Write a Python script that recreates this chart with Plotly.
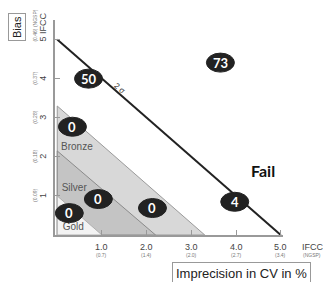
import plotly.graph_objects as go

# ---- data ----
x_ticks = [1, 2, 3, 4, 5]
x_tick_main = ["1.0", "2.0", "3.0", "4.0", "5.0"]
x_tick_ngsp = ["(0.7)", "(1.4)", "(2.0)", "(2.7)", "(3.4)"]
y_ticks = [1, 2, 3, 4, 5]
y_tick_main = ["1", "2", "3", "4", "5 IFCC"]
y_tick_ngsp = ["(0.09)", "(0.18)", "(0.28)", "(0.37)", "(0.46) (NGSP)"]

zone_names = ["Bronze", "Silver", "Gold"]
zone_limit_x = [3.3, 2.2, 1.0]
zone_limit_y = [3.3, 2.15, 1.0]
zone_label_x = [0.44, 0.38, 0.36]
zone_label_y = [2.25, 1.18, 0.20]

sigma_line_x = [0, 5]
sigma_line_y = [5, 0]

lab_imprecision = [0.70, 3.65, 0.34, 0.92, 0.27, 2.13, 3.97]
lab_bias = [4.00, 4.41, 2.77, 0.92, 0.56, 0.69, 0.85]
lab_counts = ["50", "73", "0", "0", "0", "0", "4"]

# ---- style ----
zone_fill = ["#d8d8d8", "#c4c4c4", "#f3f3f3"]
zone_line = ["#9a9a9a", "#8a8a8a", "#b0b0b0"]

L, R, T, B = 55, 283, 20, 235  # plot area in pixels


def px(xp):
    return (xp - L) / (R - L)


def py(yp):
    return (B - yp) / (B - T)


fig = go.Figure()

for name, lx, ly, fc, lc in zip(zone_names, zone_limit_x, zone_limit_y, zone_fill, zone_line):
    fig.add_trace(go.Scatter(
        x=[0, 0, lx, 0], y=[0, ly, 0, 0], mode="lines", fill="toself",
        fillcolor=fc, line=dict(color=lc, width=1), hoverinfo="skip", showlegend=False))

fig.add_trace(go.Scatter(
    x=zone_label_x, y=zone_label_y, mode="text", text=zone_names,
    textfont=dict(family="Liberation Sans, Arial", size=10, color="#555"),
    hoverinfo="skip", showlegend=False))

fig.add_trace(go.Scatter(
    x=sigma_line_x, y=sigma_line_y, mode="lines",
    line=dict(color="#222", width=2), hoverinfo="skip", showlegend=False))

shapes = []
annotations = []
for xv, yv, txt in zip(lab_imprecision, lab_bias, lab_counts):
    shapes.append(dict(
        type="circle", xref="x", yref="y", xsizemode="pixel", ysizemode="pixel",
        xanchor=xv, yanchor=yv, x0=-14, x1=14, y0=-9.5, y1=9.5,
        fillcolor="#222", line=dict(color="#222", width=1), layer="above"))
    annotations.append(dict(
        x=xv, y=yv, xref="x", yref="y", text="<b>%s</b>" % txt, showarrow=False,
        font=dict(family="Lato, Open Sans", size=13, color="white")))

# 2 sigma label
annotations.append(dict(x=1.40, y=3.76, xref="x", yref="y", text="2 σ", showarrow=False,
                        textangle=41, font=dict(family="Liberation Sans", size=8, color="#333")))
# Fail label
annotations.append(dict(x=4.61, y=1.66, xref="x", yref="y", text="<b>Fail</b>", showarrow=False,
                        font=dict(family="Lato, Open Sans", size=16, color="#111")))

# x tick labels
for xv, m, n in zip(x_ticks, x_tick_main, x_tick_ngsp):
    annotations.append(dict(x=xv, y=0, xref="x", yref="y", yshift=-12, text=m, showarrow=False,
                            xanchor="center", yanchor="middle",
                            font=dict(family="Liberation Sans", size=9, color="#444")))
    annotations.append(dict(x=xv, y=0, xref="x", yref="y", yshift=-20, text=n, showarrow=False,
                            xanchor="center", yanchor="middle",
                            font=dict(family="Liberation Sans", size=5, color="#777")))
annotations.append(dict(x=px(312), y=0, xref="paper", yref="y", yshift=-12, text="IFCC",
                        showarrow=False, xanchor="center", yanchor="middle",
                        font=dict(family="Liberation Sans", size=9, color="#444")))
annotations.append(dict(x=px(312), y=0, xref="paper", yref="y", yshift=-20, text="(NGSP)",
                        showarrow=False, xanchor="center", yanchor="middle",
                        font=dict(family="Liberation Sans", size=5, color="#777")))

# y tick labels (rotated)
for yv, m, n in zip(y_ticks, y_tick_main, y_tick_ngsp):
    shift_m = 12 if len(m) > 1 else 0
    shift_n = 14 if len(n) > 7 else 0
    annotations.append(dict(x=px(43), y=yv, xref="paper", yref="y", yshift=shift_m, text=m,
                            showarrow=False, textangle=-90, xanchor="center", yanchor="middle",
                            font=dict(family="Liberation Sans", size=9, color="#444")))
    annotations.append(dict(x=px(35), y=yv, xref="paper", yref="y", yshift=shift_n, text=n,
                            showarrow=False, textangle=-90, xanchor="center", yanchor="middle",
                            font=dict(family="Liberation Sans", size=5, color="#777")))

# axis title boxes
annotations.append(dict(x=px(17), y=py(27), xref="paper", yref="paper",
                        text="Bias", showarrow=False, textangle=-90,
                        xanchor="center", yanchor="middle",
                        bordercolor="#999", borderwidth=1, borderpad=2,
                        font=dict(family="Liberation Sans", size=11, color="#222")))
annotations.append(dict(x=px(241), y=py(273), xref="paper", yref="paper",
                        text="Imprecision in CV in %", showarrow=False,
                        xanchor="center", yanchor="middle",
                        bordercolor="#999", borderwidth=1, borderpad=3,
                        font=dict(family="Liberation Sans", size=13, color="#222")))

fig.update_layout(
    width=323, height=282, margin=dict(l=L, r=323 - R, t=T, b=282 - B),
    paper_bgcolor="white", plot_bgcolor="white",
    shapes=shapes, annotations=annotations, showlegend=False,
    xaxis=dict(range=[-0.05, 5.05], showgrid=False, zeroline=False, showline=True,
               linecolor="#999", linewidth=1.5, ticks="inside", ticklen=5, tickcolor="#999",
               tickvals=x_ticks, showticklabels=False),
    yaxis=dict(range=[0, 5.5], showgrid=False, zeroline=False, showline=True,
               linecolor="#999", linewidth=1.5, ticks="inside", ticklen=5, tickcolor="#999",
               tickvals=y_ticks, showticklabels=False),
)

fig.write_html("out.html", config={"displayModeBar": False},
               post_script="document.body.style.margin='0';document.body.style.overflow='hidden';")
